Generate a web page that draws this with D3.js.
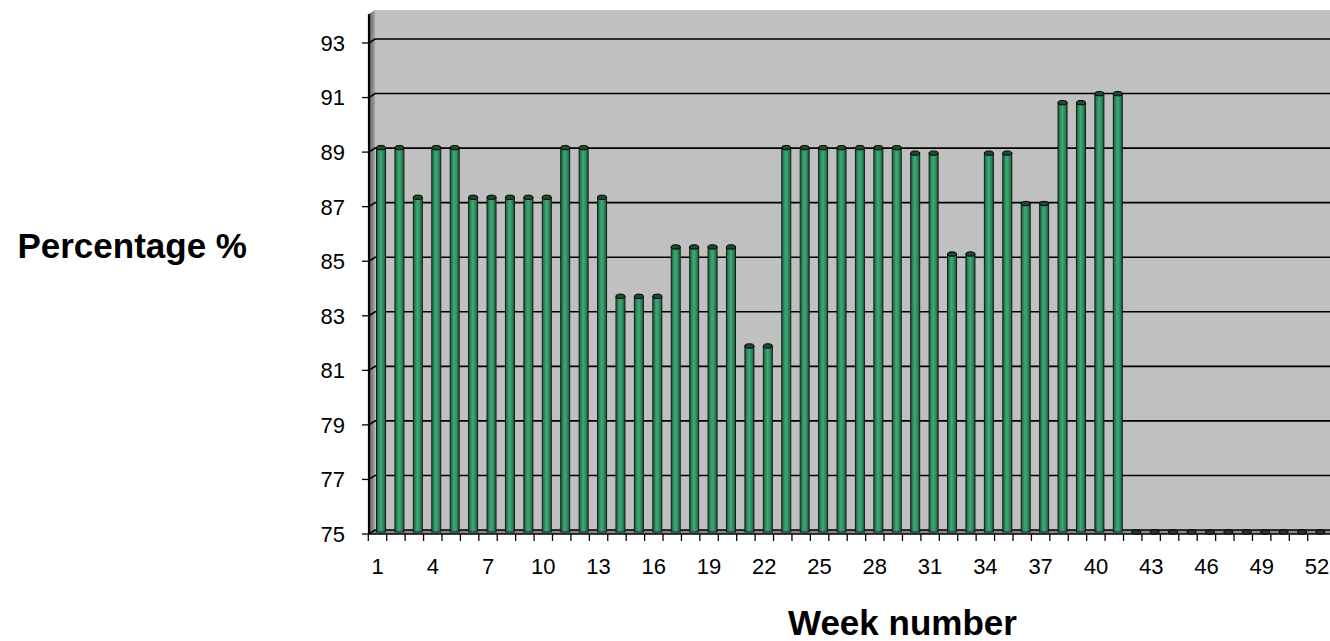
<!DOCTYPE html>
<html><head><meta charset="utf-8">
<script src="https://cdn.jsdelivr.net/npm/d3@7"></script>
<style>body{margin:0;background:#fff}svg{display:block}</style></head>
<body><svg id="c" width="1330" height="641"></svg>
<script>
// ---- data ----
const weeks = [1,2,3,4,5,6,7,8,9,10,11,12,13,14,15,16,17,18,19,20,21,22,23,24,25,26,
  27,28,29,30,31,32,33,34,35,36,37,38,39,40,41,42,43,44,45,46,47,48,49,50,51,52];
const values = [89.09,89.09,87.27,89.09,89.09,87.27,87.27,87.27,87.27,87.27,89.09,89.09,87.27,
  83.64,83.64,83.64,85.45,85.45,85.45,85.45,81.82,81.82,89.09,89.09,89.09,89.09,89.09,89.09,89.09,
  88.89,88.89,85.19,85.19,88.89,88.89,87.04,87.04,90.74,90.74,91.07,91.07,
  0,0,0,0,0,0,0,0,0,0,0];
const yTicks = [75,77,79,81,83,85,87,89,91,93];
const xTickLabels = [1,4,7,10,13,16,19,22,25,28,31,34,37,40,43,46,49,52];
const yTitle = "Percentage %";
const xTitle = "Week number";

// ---- layout ----
const W = 1330, H = 641;
const left = 369, right = 1330 + 30, bottom = 534, topY = 14;
const dx = 6, dy = -4;          // back wall depth
const bdx = 3.5, bdy = -2;      // bar depth
const step = 18.42;
const FONT = "Liberation Sans, Arial, sans-serif";

const svg = d3.select("#c");
const x = d3.scaleBand().domain(weeks).range([left - 0.7, left - 0.7 + weeks.length * step]).padding(0);
const y = d3.scaleLinear().domain([75, 93]).range([bottom, 43]);

const defs = svg.append("defs");
const lw = defs.append("linearGradient").attr("id","lw").attr("x1","0").attr("x2","1");
lw.append("stop").attr("offset","0").attr("stop-color","#5e5e5e");
lw.append("stop").attr("offset","1").attr("stop-color","#a6a6a6");
const bg = defs.append("linearGradient").attr("id","bar").attr("x1","0").attr("x2","1");
[["0","#1c5838"],["0.22","#2b8758"],["0.45","#3cab75"],["0.7","#2e9160"],["1","#1b5536"]]
  .forEach(([o,c]) => bg.append("stop").attr("offset",o).attr("stop-color",c));

// back wall
svg.append("rect").attr("x", left + dx).attr("y", topY + dy).attr("width", right - left).attr("height", bottom - topY)
  .attr("fill", "#c0c0c0");
// left wall
svg.append("polygon").attr("points", [[left, topY],[left+dx, topY+dy],[left+dx, bottom+dy],[left, bottom]].join(" "))
  .attr("fill", "url(#lw)");
// floor
svg.append("polygon").attr("points", [[left, bottom],[left+dx, bottom+dy],[right+dx, bottom+dy],[right, bottom]].join(" "))
  .attr("fill", "#8a8a8a");

// gridlines
svg.append("g").selectAll("polyline").data(yTicks).join("polyline")
  .attr("points", d => [[left, y(d)],[left+dx, y(d)+dy],[right, y(d)+dy]].join(" "))
  .attr("fill","none").attr("stroke","#000").attr("stroke-width",1.6);

// axes lines
svg.append("line").attr("x1", left).attr("x2", left).attr("y1", topY).attr("y2", bottom)
  .attr("stroke","#000").attr("stroke-width",2.2);
svg.append("line").attr("x1", left).attr("x2", right).attr("y1", bottom).attr("y2", bottom)
  .attr("stroke","#000").attr("stroke-width",1.6);

// y ticks + labels
const yg = svg.append("g");
yg.selectAll("line").data(yTicks).join("line")
  .attr("x1", left - 7).attr("x2", left).attr("y1", d => y(d)).attr("y2", d => y(d))
  .attr("stroke","#000").attr("stroke-width",1.3);
yg.selectAll("text").data(yTicks).join("text")
  .attr("x", left - 24).attr("y", d => y(d)).attr("dy","0.36em").attr("text-anchor","end")
  .attr("font-family",FONT).attr("font-size",22).text(d => d);

// x ticks at category boundaries
const xg = svg.append("g");
xg.selectAll("line").data(weeks).join("line")
  .attr("x1", d => x(d)).attr("x2", d => x(d)).attr("y1", bottom).attr("y2", bottom + 7)
  .attr("stroke","#000").attr("stroke-width",1.3);
xg.selectAll("text").data(xTickLabels).join("text")
  .attr("x", d => x(d) + x.bandwidth()/2).attr("y", bottom + 32).attr("dy","0.36em").attr("text-anchor","middle")
  .attr("font-family",FONT).attr("font-size",22).text(d => d);

// bars
const bw = 9;
const data = weeks.map((w,i) => ({w, v: values[i]}));
const bars = svg.append("g");
data.forEach(d => {
  const cx = x(d.w) + x.bandwidth()/2 + bdx;
  const base = y(75) + bdy;
  if (d.v > 75) {
    const top = y(d.v) + bdy;
    bars.append("rect").attr("x", cx - bw/2).attr("y", top).attr("width", bw).attr("height", base - top)
      .attr("fill","url(#bar)").attr("stroke","#1a1a1a").attr("stroke-width",1);
    bars.append("ellipse").attr("cx", cx).attr("cy", top).attr("rx", bw/2).attr("ry", 2.2)
      .attr("fill","#1f4a33").attr("stroke","#000").attr("stroke-width",1);
  } else {
    bars.append("ellipse").attr("cx", cx).attr("cy", base).attr("rx", bw/2).attr("ry", 2.2)
      .attr("fill","#1f3a2c").attr("stroke","#000").attr("stroke-width",1);
  }
});

// titles
svg.append("text").attr("x", 247).attr("y", 258).attr("text-anchor","end")
  .attr("font-family",FONT).attr("font-weight","bold").attr("font-size",35).text(yTitle);
svg.append("text").attr("x", 788).attr("y", 635).attr("text-anchor","start")
  .attr("font-family",FONT).attr("font-weight","bold").attr("font-size",35).text(xTitle);
</script></body></html>
